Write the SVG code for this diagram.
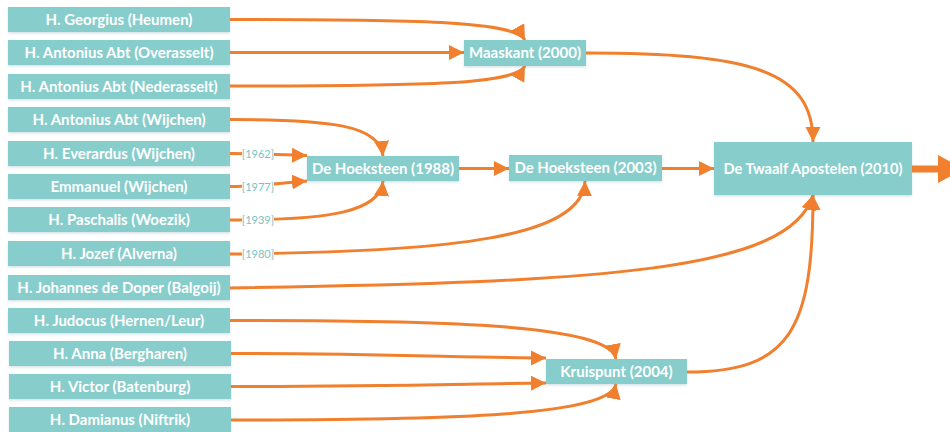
<svg xmlns="http://www.w3.org/2000/svg" width="950" height="432" viewBox="0 0 950 432">
<defs>
<style>
.n rect{fill:#87CDCB;filter:url(#sh)}
.n text{fill:#fff;font-family:Lato,"Open Sans","Liberation Sans",sans-serif;font-weight:bold;font-size:15px;text-anchor:middle}
.e path{fill:none;stroke:#F07F2E;stroke-width:3;marker-end:url(#ah)}
.lb rect{fill:#fff}
.lb text{fill:#74C4C4;font-family:Lato,"Liberation Sans",sans-serif;font-size:11px;text-anchor:middle}
</style>
<filter id="sh" x="-5%" y="-20%" width="110%" height="150%">
<feDropShadow dx="0" dy="1.5" stdDeviation="1" flood-color="#5a8fa0" flood-opacity="0.25"/>
</filter>
<marker id="ah" markerUnits="userSpaceOnUse" markerWidth="16" markerHeight="16" refX="15" refY="7.5" orient="auto">
<path d="M0,0 L15,7.5 L0,15 z" fill="#F07F2E"/>
</marker>
</defs>
<rect width="950" height="432" fill="#fff"/>
<g id="connectors" class="e">
<path d="M230,19.5 C430,19.5 515,22 525,40"/>
<path d="M230,52.5 L464,52.5"/>
<path d="M230,86 C430,86 515,84 525,66"/>
<path d="M586,53 C750,53 813,70 813,142"/>
<path d="M230,119.5 C330,119.5 380,125 383,156"/>
<path d="M230,153.5 C260,153.5 280,155 307,155.5"/>
<path d="M230,186.5 C260,186.5 280,183 307,181"/>
<path d="M230,220 C330,220 380,212 383,181"/>
<path d="M459,168.5 L509,168.5"/>
<path d="M230,254 C450,252 583,238 585,181"/>
<path d="M662,168.5 L714,168.5"/>
<path d="M230,288 C600,282 790,272 813,195"/>
<path d="M230,320.5 C450,320 610,325 616,359"/>
<path d="M230,353.5 C380,353.5 460,357.5 546,358"/>
<path d="M230,386.5 C380,386.5 460,384 546,383"/>
<path d="M230,420 C450,420 610,416 616,384"/>
<path d="M687,372 C790,372 813,330 813,195"/>
<path d="M912,169 L940,169" style="stroke-width:7;marker-end:none"/>
<polygon points="938,155 964,169 938,183" fill="#F07F2E"/>
</g>
<g id="labels" class="lb">
<rect x="242" y="147" width="32" height="13"/><text x="258" y="158">[1962]</text>
<rect x="242" y="180" width="32" height="13"/><text x="258" y="190.5">[1977]</text>
<rect x="242" y="213" width="32" height="13"/><text x="258" y="223.5">[1939]</text>
<rect x="242" y="247" width="32" height="13"/><text x="258" y="258">[1980]</text>
</g>
<g id="n1" class="n"><rect x="8" y="7" width="222" height="25"/><text x="119" y="24.5">H. Georgius (Heumen)</text></g>
<g id="n2" class="n"><rect x="8" y="40" width="222" height="25"/><text x="119" y="57.5">H. Antonius Abt (Overasselt)</text></g>
<g id="n3" class="n"><rect x="8" y="74" width="222" height="25"/><text x="119" y="91.5">H. Antonius Abt (Nederasselt)</text></g>
<g id="n4" class="n"><rect x="8" y="107" width="222" height="25"/><text x="119" y="124.5">H. Antonius Abt (Wijchen)</text></g>
<g id="n5" class="n"><rect x="8" y="141" width="222" height="25"/><text x="119" y="158.5">H. Everardus (Wijchen)</text></g>
<g id="n6" class="n"><rect x="8" y="174" width="222" height="25"/><text x="119" y="191.5">Emmanuel (Wijchen)</text></g>
<g id="n7" class="n"><rect x="8" y="207" width="222" height="25"/><text x="119" y="224.5">H. Paschalis (Woezik)</text></g>
<g id="n8" class="n"><rect x="8" y="241" width="222" height="25"/><text x="119" y="258.5">H. Jozef (Alverna)</text></g>
<g id="n9" class="n"><rect x="8" y="275" width="222" height="25"/><text x="119" y="292.5">H. Johannes de Doper (Balgoij)</text></g>
<g id="n10" class="n"><rect x="8" y="308" width="222" height="25"/><text x="119" y="325.5">H. Judocus (Hernen/Leur)</text></g>
<g id="n11" class="n"><rect x="9" y="341" width="222" height="25"/><text x="120" y="358.5">H. Anna (Bergharen)</text></g>
<g id="n12" class="n"><rect x="9" y="374" width="222" height="25"/><text x="120" y="391.5">H. Victor (Batenburg)</text></g>
<g id="n13" class="n"><rect x="9" y="407" width="222" height="25"/><text x="120" y="424.5">H. Damianus (Niftrik)</text></g>
<g id="maaskant" class="n"><rect x="464" y="40" width="122" height="26"/><text x="525" y="58">Maaskant (2000)</text></g>
<g id="hoeksteen1988" class="n"><rect x="307" y="156" width="152" height="25"/><text x="383" y="173.5">De Hoeksteen (1988)</text></g>
<g id="hoeksteen2003" class="n"><rect x="509" y="155" width="153" height="26"/><text x="585.5" y="173">De Hoeksteen (2003)</text></g>
<g id="twaalf" class="n"><rect x="714" y="142" width="198" height="53"/><text x="813" y="174" style="font-size:14.6px">De Twaalf Apostelen (2010)</text></g>
<g id="kruispunt" class="n"><rect x="546" y="359" width="141" height="25"/><text x="616.5" y="376.5">Kruispunt (2004)</text></g>
</svg>
